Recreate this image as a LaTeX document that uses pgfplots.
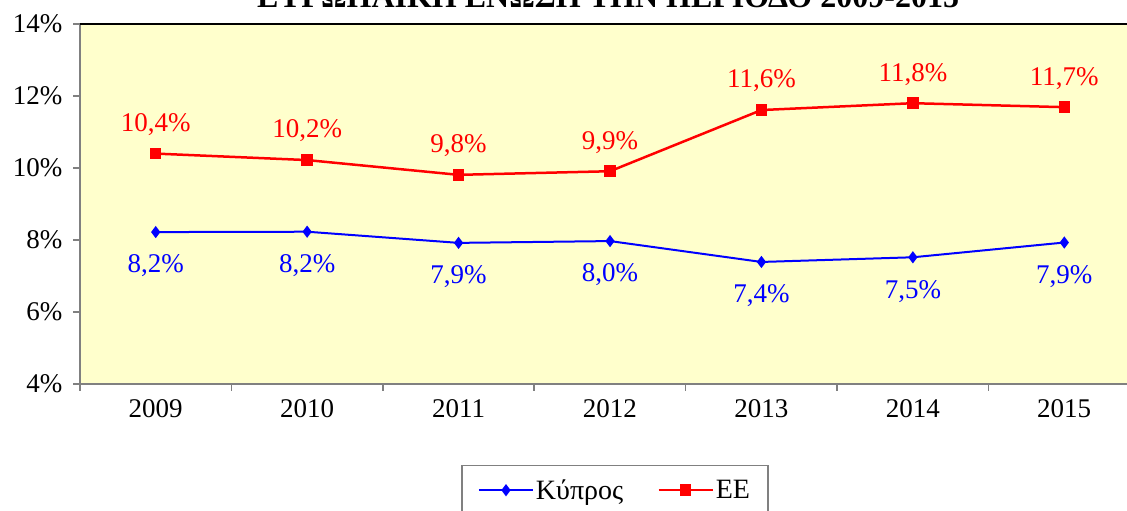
\documentclass[border=0pt]{standalone}
\usepackage{fontspec}
\setmainfont{Liberation Serif}
\usepackage{pgfplots}
\pgfplotsset{compat=1.18}
\definecolor{bg}{HTML}{FFFFCC}
\definecolor{axgray}{HTML}{808080}
\begin{document}
\begin{tikzpicture}[font=\fontsize{27}{32}\selectfont]
\begin{axis}[
  at={(0pt,0pt)}, anchor=south west,
  scale only axis, width=1060pt, height=360pt,
  xmin=2008.5, xmax=2015.5, ymin=4, ymax=14,
  axis background/.style={fill=bg},
  axis x line*=bottom, axis y line*=left,
  axis line style={draw=axgray, line width=2pt, -},
  xtick={2008.5,2009.5,...,2015.5},
  x tick label as interval,
  xticklabels={2009,2010,2011,2012,2013,2014,2015},
  ytick={4,6,...,14},
  yticklabels={4\%,6\%,8\%,10\%,12\%,14\%},
  tick align=outside, major tick length=7pt,
  tick style={draw=axgray, line width=1.5pt},
  yticklabel style={xshift=-7pt},
  xticklabel style={yshift=-5pt},
  clip=false,
  nodes near coords, point meta=explicit symbolic,
  legend style={at={(0.5047,-0.225)}, anchor=north, draw=axgray, line width=1.2pt,
    legend columns=2, inner xsep=16pt, inner ysep=12pt,
    font=\fontsize{28}{32}\selectfont,
    /tikz/every even column/.append style={column sep=32pt}},
  legend image code/.code={\draw[mark repeat=2,mark phase=2,#1] plot coordinates {(0pt,0pt) (27pt,0pt) (54pt,0pt)};},
]
\addplot[blue, line width=2pt, mark=diamond*, mark size=4.5pt,
  every node near coord/.append style={text=blue, anchor=center, yshift=-34pt}]
  coordinates {(2009,8.22)[8,2\%] (2010,8.23)[8,2\%] (2011,7.92)[7,9\%] (2012,7.97)[8,0\%] (2013,7.39)[7,4\%] (2014,7.52)[7,5\%] (2015,7.93)[7,9\%]};
\addlegendentry{Κύπρος}
\addplot[red, line width=2.5pt, mark=square*, mark size=4.5pt,
  every node near coord/.append style={text=red, anchor=center, yshift=29pt}]
  coordinates {(2009,10.40)[10,4\%] (2010,10.22)[10,2\%] (2011,9.81)[9,8\%] (2012,9.91)[9,9\%] (2013,11.61)[11,6\%] (2014,11.80)[11,8\%] (2015,11.69)[11,7\%]};
\addlegendentry{ΕΕ}
\draw[black, line width=2pt] (rel axis cs:0,1) -- (rel axis cs:1,1);
\end{axis}
\node[font=\bfseries\fontsize{32}{36}\selectfont, anchor=base] at (528pt,376.5pt) {ΕΥΡΩΠΑΪΚΗ ΕΝΩΣΗ ΤΗΝ ΠΕΡΙΟΔΟ 2009-2015};
\pgfresetboundingbox
\useasboundingbox (-80pt,-127pt) rectangle (1047pt,384pt);
\end{tikzpicture}
\end{document}
